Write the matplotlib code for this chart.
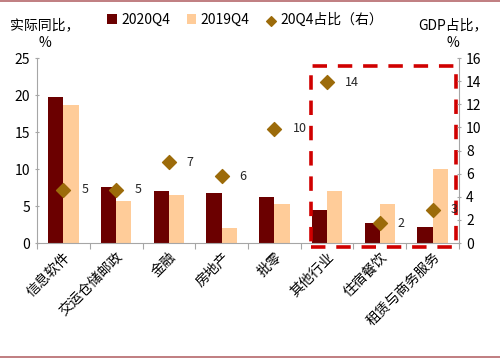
import matplotlib.pyplot as plt
from matplotlib.patches import Rectangle
from matplotlib.lines import Line2D
import numpy as np

plt.rcParams['font.family'] = ['Noto Sans CJK SC', 'DejaVu Sans']

categories = ["信息软件", "交运仓储邮政", "金融", "房地产", "批零", "其他行业", "住宿餐饮", "租赁与商务服务"]
yoy_2020q4 = [19.7, 7.6, 7.0, 6.7, 6.2, 4.5, 2.7, 2.2]
yoy_2019q4 = [18.6, 5.7, 6.5, 2.0, 5.3, 7.0, 5.3, 10.0]
gdp_share = [4.6, 4.6, 7.0, 5.8, 9.9, 13.9, 1.7, 2.9]
share_labels = ["5", "5", "7", "6", "10", "14", "2", "3"]

dark = "#6B0000"
light = "#FFCC99"
gold = "#9C6B0A"
grey = "#A6A6A6"

fig = plt.figure(figsize=(5, 3.59), dpi=100)
ax = fig.add_axes([0.074, 0.323, 0.844, 0.515])
ax2 = ax.twinx()

x = np.arange(len(categories))
w = 0.29
ax.bar(x - w / 2, yoy_2020q4, w, color=dark, label="2020Q4")
ax.bar(x + w / 2, yoy_2019q4, w, color=light, label="2019Q4")
ax2.scatter(x, gdp_share, marker="D", s=50, color=gold, label="20Q4占比（右）", zorder=3)
for xi, yi, t in zip(x, gdp_share, share_labels):
    ax2.annotate(t, (xi, yi), xytext=(13, 0), textcoords="offset points",
                 va="center", ha="left", fontsize=9, color="#262626")

ax.set_xlim(-0.5, len(categories) - 0.5)
ax.set_ylim(0, 25)
ax2.set_ylim(0, 16)
ax.set_yticks(range(0, 26, 5))
ax2.set_yticks(range(0, 17, 2))
ax.set_xticks(np.arange(-0.5, len(categories), 1.0))
ax.set_xticklabels([])
ax.set_xticks(x, minor=True)
ax.set_xticklabels(categories, minor=True, rotation=45, ha="right",
                   rotation_mode="anchor", fontsize=10)
ax.tick_params(axis="x", which="minor", length=0, pad=5)
ax.tick_params(axis="x", which="major", length=4, color=grey, direction="out")
ax.tick_params(axis="y", labelsize=10, length=3, color=grey, direction="inout")
ax2.tick_params(axis="y", labelsize=10, length=3, color=grey, direction="inout")

for a in (ax, ax2):
    for side in ("top", "right", "left", "bottom"):
        a.spines[side].set_visible(False)
ax.spines["left"].set_visible(True)
ax.spines["bottom"].set_visible(True)
ax2.spines["right"].set_visible(True)
for sp in (ax.spines["left"], ax.spines["bottom"], ax2.spines["right"]):
    sp.set_color(grey)

# highlight box
rect = Rectangle((4.69, -0.5), 2.76, 24.5, fill=False, edgecolor="#D00000",
                 linewidth=2.6, linestyle=(0, (4, 3)), clip_on=False, zorder=5)
ax.add_patch(rect)

h1, l1 = ax.get_legend_handles_labels()
h2, l2 = ax2.get_legend_handles_labels()
fig.legend(h1 + h2, l1 + l2, loc="center", bbox_to_anchor=(0.49, 0.944), ncol=3,
           frameon=False, fontsize=10, handlelength=0.7, handletextpad=0.3,
           columnspacing=1.2, markerscale=0.7)

fig.text(0.09, 0.905, "实际同比，\n%", ha="center", va="center", fontsize=10,
         linespacing=1.3)
fig.text(0.905, 0.905, "GDP占比，\n%", ha="center", va="center", fontsize=10,
         linespacing=1.3)

fig.add_artist(Line2D([0, 1], [0.997, 0.997], color="#B5676B", linewidth=1.2))
fig.add_artist(Line2D([0, 1], [0.006, 0.006], color="#B5676B", linewidth=1.2))

fig.savefig("out.png", dpi=100)
